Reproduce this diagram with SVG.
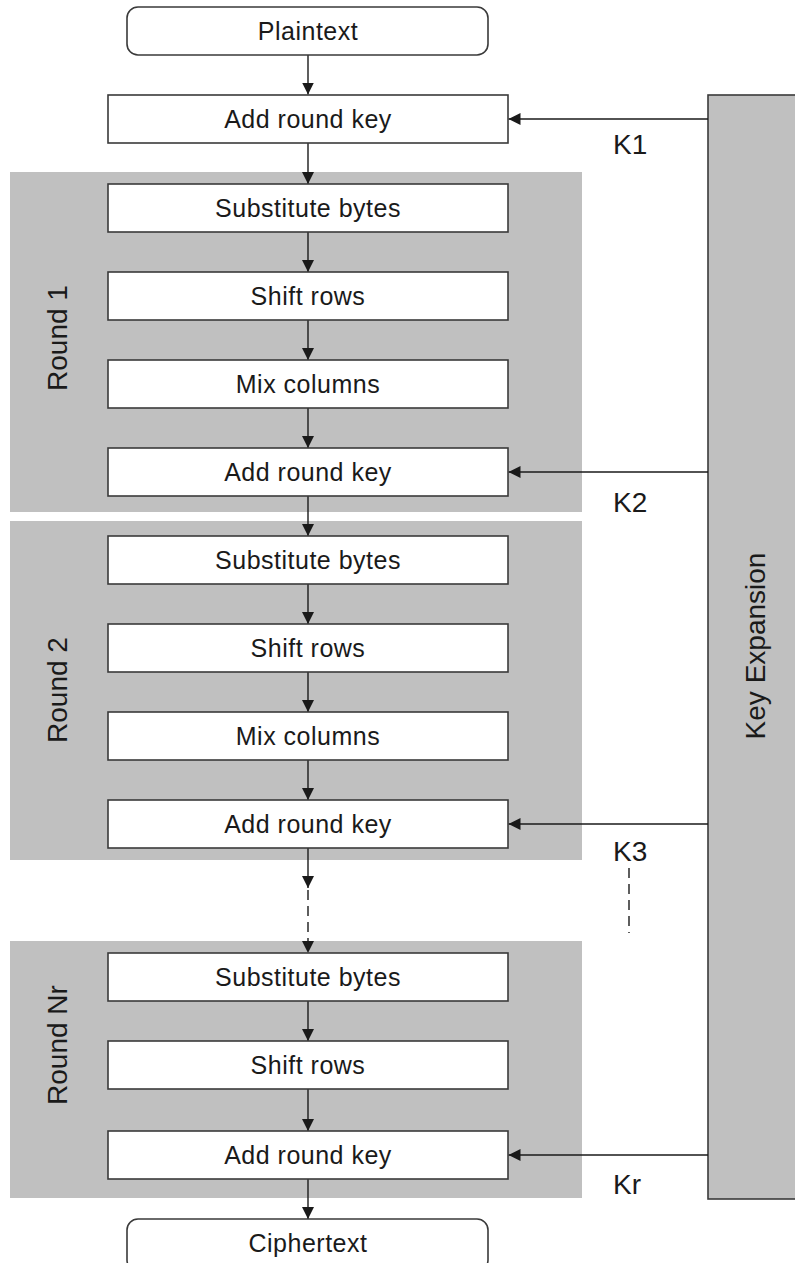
<svg xmlns="http://www.w3.org/2000/svg" width="795" height="1263" viewBox="0 0 795 1263">
<style>
.bg{fill:#c0c0c0;stroke:none}
.box{fill:#ffffff;stroke:#3a3a3a;stroke-width:1.6}
.term{fill:#ffffff;stroke:#3a3a3a;stroke-width:1.6}
.kx{fill:#c0c0c0;stroke:#3a3a3a;stroke-width:1.6}
.t{font-family:"Liberation Sans",Arial,sans-serif;font-size:25px;letter-spacing:0.5px;fill:#1a1a1a;text-anchor:middle}
.k{font-family:"Liberation Sans",Arial,sans-serif;font-size:28px;fill:#1a1a1a}
.r{font-family:"Liberation Sans",Arial,sans-serif;font-size:28px;fill:#1a1a1a;text-anchor:middle}
.c{stroke:#1a1a1a;stroke-width:1.4;fill:none}
.d{stroke:#1a1a1a;stroke-width:1.4;fill:none;stroke-dasharray:10 6}
</style>
<defs>
<marker id="ah" markerUnits="userSpaceOnUse" markerWidth="13" markerHeight="12" refX="12" refY="6" orient="auto">
<path d="M0,0 L12,6 L0,12 z" fill="#1a1a1a"/>
</marker>
</defs>

<g id="round1-bg"><rect class="bg" x="10" y="172" width="572" height="340"/>
<text class="r" transform="translate(66.5,338) rotate(-90)">Round 1</text></g>
<g id="round2-bg"><rect class="bg" x="10" y="521" width="572" height="339"/>
<text class="r" transform="translate(66.5,690) rotate(-90)">Round 2</text></g>
<g id="roundNr-bg"><rect class="bg" x="10" y="941" width="572" height="257"/>
<text class="r" transform="translate(66.5,1045) rotate(-90)">Round Nr</text></g>

<g id="key-expansion"><rect class="kx" x="708" y="95" width="92" height="1104"/>
<text class="r" transform="translate(765,646) rotate(-90)">Key Expansion</text></g>

<g id="connectors">
<line class="c" x1="308" y1="55" x2="308" y2="94.5" marker-end="url(#ah)"/>
<line class="c" x1="308" y1="143" x2="308" y2="184" marker-end="url(#ah)"/>
<line class="c" x1="308" y1="232" x2="308" y2="272" marker-end="url(#ah)"/>
<line class="c" x1="308" y1="320" x2="308" y2="360" marker-end="url(#ah)"/>
<line class="c" x1="308" y1="408" x2="308" y2="448" marker-end="url(#ah)"/>
<line class="c" x1="308" y1="496" x2="308" y2="536" marker-end="url(#ah)"/>
<line class="c" x1="308" y1="584" x2="308" y2="624" marker-end="url(#ah)"/>
<line class="c" x1="308" y1="672" x2="308" y2="712" marker-end="url(#ah)"/>
<line class="c" x1="308" y1="760" x2="308" y2="800" marker-end="url(#ah)"/>
<line class="c" x1="308" y1="848" x2="308" y2="888" marker-end="url(#ah)"/>
<line class="d" x1="308" y1="890" x2="308" y2="953" marker-end="url(#ah)"/>
<line class="c" x1="308" y1="1001" x2="308" y2="1041" marker-end="url(#ah)"/>
<line class="c" x1="308" y1="1089" x2="308" y2="1131" marker-end="url(#ah)"/>
<line class="c" x1="308" y1="1179" x2="308" y2="1219" marker-end="url(#ah)"/>
<line class="c" x1="708" y1="119" x2="508.5" y2="119" marker-end="url(#ah)"/>
<line class="c" x1="708" y1="472" x2="508.5" y2="472" marker-end="url(#ah)"/>
<line class="c" x1="708" y1="824" x2="508.5" y2="824" marker-end="url(#ah)"/>
<line class="c" x1="708" y1="1155" x2="508.5" y2="1155" marker-end="url(#ah)"/>
<line class="d" x1="629" y1="868" x2="629" y2="933"/>
</g>

<g id="key-labels">
<text class="k" x="613" y="154">K1</text>
<text class="k" x="613" y="512">K2</text>
<text class="k" x="613" y="861">K3</text>
<text class="k" x="613" y="1194">Kr</text>
</g>

<g id="plaintext"><rect class="term" x="127" y="7" width="361" height="48" rx="11"/>
<text class="t" x="308" y="40">Plaintext</text></g>
<g id="ark0"><rect class="box" x="108" y="95" width="400" height="48"/>
<text class="t" x="308" y="128">Add round key</text></g>

<g id="r1-sub"><rect class="box" x="108" y="184" width="400" height="48"/>
<text class="t" x="308" y="217">Substitute bytes</text></g>
<g id="r1-shift"><rect class="box" x="108" y="272" width="400" height="48"/>
<text class="t" x="308" y="305">Shift rows</text></g>
<g id="r1-mix"><rect class="box" x="108" y="360" width="400" height="48"/>
<text class="t" x="308" y="393">Mix columns</text></g>
<g id="r1-ark"><rect class="box" x="108" y="448" width="400" height="48"/>
<text class="t" x="308" y="481">Add round key</text></g>

<g id="r2-sub"><rect class="box" x="108" y="536" width="400" height="48"/>
<text class="t" x="308" y="569">Substitute bytes</text></g>
<g id="r2-shift"><rect class="box" x="108" y="624" width="400" height="48"/>
<text class="t" x="308" y="657">Shift rows</text></g>
<g id="r2-mix"><rect class="box" x="108" y="712" width="400" height="48"/>
<text class="t" x="308" y="745">Mix columns</text></g>
<g id="r2-ark"><rect class="box" x="108" y="800" width="400" height="48"/>
<text class="t" x="308" y="833">Add round key</text></g>

<g id="rn-sub"><rect class="box" x="108" y="953" width="400" height="48"/>
<text class="t" x="308" y="986">Substitute bytes</text></g>
<g id="rn-shift"><rect class="box" x="108" y="1041" width="400" height="48"/>
<text class="t" x="308" y="1074">Shift rows</text></g>
<g id="rn-ark"><rect class="box" x="108" y="1131" width="400" height="48"/>
<text class="t" x="308" y="1164">Add round key</text></g>

<g id="ciphertext"><rect class="term" x="127" y="1219" width="361" height="52" rx="11"/>
<text class="t" x="308" y="1252">Ciphertext</text></g>
</svg>
